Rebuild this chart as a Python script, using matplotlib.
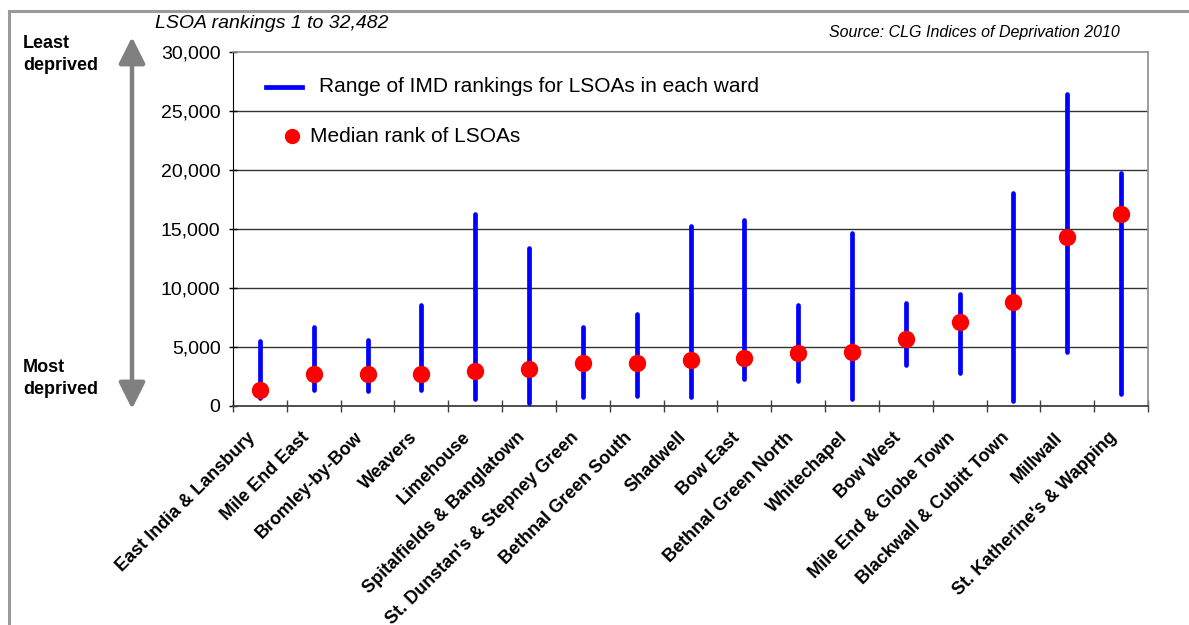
import matplotlib
matplotlib.use("Agg")
import matplotlib.pyplot as plt
from matplotlib.patches import FancyArrowPatch
from matplotlib.lines import Line2D
from matplotlib.transforms import ScaledTranslation, blended_transform_factory

wards = ["East India & Lansbury", "Mile End East", "Bromley-by-Bow", "Weavers",
         "Limehouse", "Spitalfields & Banglatown", "St. Dunstan's & Stepney Green",
         "Bethnal Green South", "Shadwell", "Bow East", "Bethnal Green North",
         "Whitechapel", "Bow West", "Mile End & Globe Town", "Blackwall & Cubitt Town",
         "Millwall", "St. Katherine's & Wapping"]
rank_min = [700, 1350, 1300, 1350, 590, 230, 760, 850, 790, 2260, 2150, 590,
            3500, 2820, 450, 4580, 1040]
rank_max = [5500, 6670, 5560, 8590, 16270, 13360, 6720, 7800, 15280, 15790, 8600,
            14660, 8730, 9460, 18080, 26420, 19770]
rank_median = [1350, 2680, 2680, 2700, 3000, 3100, 3610, 3640, 3900, 4100, 4490,
               4600, 5680, 7150, 8840, 14300, 16250]
y_ticks = [0, 5000, 10000, 15000, 20000, 25000, 30000]

plt.rcParams['font.family'] = ['Liberation Sans', 'DejaVu Sans']

W, H = 1189, 625
fig = plt.figure(figsize=(W / 100, H / 100), dpi=100)
L, R, T, B = 233, 1148, 52, 406
ax = fig.add_axes([L / W, 1 - B / H, (R - L) / W, (B - T) / H])

x = list(range(len(wards)))
lc = ax.vlines(x, rank_min, rank_max, color='#0000FF', lw=3.4, zorder=3)
lc.set_capstyle('round')
ax.plot(x, rank_median, 'o', color='#FF0000', mec='#FF0000', ms=11.5, zorder=4)

ax.set_xlim(-0.5, len(wards) - 0.5)
ax.set_ylim(0, 30000)
ax.set_yticks(y_ticks)
ax.set_yticklabels([f"{v:,}" for v in y_ticks], fontsize=14)
for v in y_ticks[1:-1]:
    ax.axhline(v, color='#333333', lw=1.0, zorder=1)

ax.set_xticks([i - 0.5 for i in range(len(wards) + 1)])
ax.set_xticklabels([])
ax.tick_params(axis='x', direction='inout', length=8.5, width=1, color='#404040')
ax.tick_params(axis='y', direction='inout', length=6, width=1, pad=6, color='black')

for s in ['top', 'right']:
    ax.spines[s].set_color('#8c8c8c')
    ax.spines[s].set_linewidth(1.2)
ax.spines['left'].set_color('black')
ax.spines['bottom'].set_color('#404040')
ax.spines['bottom'].set_linewidth(1.3)

trans = blended_transform_factory(ax.transData, ax.transAxes) + \
    ScaledTranslation(-13 / 100, -23 / 100, fig.dpi_scale_trans)
for i, name in enumerate(wards):
    ax.text(i, 0, name, transform=trans, rotation=45, ha='right', va='top',
            rotation_mode='anchor', fontsize=13, fontweight='bold')

# legend
def ax_pt(px, py):
    return ((px - L) / (R - L), (B - py) / (B - T))

x0, y0 = ax_pt(266, 87)
x1, _ = ax_pt(302, 87)
ax.add_line(Line2D([x0, x1], [y0, y0], transform=ax.transAxes, color='#0000FF', lw=3.4))
tx, ty = ax_pt(319, 87)
ax.text(tx, ty, "Range of IMD rankings for LSOAs in each ward", transform=ax.transAxes,
        fontsize=15, va='center', ha='left')
dx, dy = ax_pt(292, 136)
ax.plot([dx], [dy], 'o', transform=ax.transAxes, color='#FF0000', ms=10)
tx, ty = ax_pt(310, 136)
ax.text(tx, ty, "Median rank of LSOAs", transform=ax.transAxes,
        fontsize=15, va='center', ha='left')

def fpos(px, py):
    return (px / W, 1 - py / H)

fig.text(*fpos(155, 24), "LSOA rankings 1 to 32,482", fontsize=14, style='italic',
         ha='left', va='center')
fig.text(*fpos(1120, 33), "Source: CLG Indices of Deprivation 2010", fontsize=11.5,
         style='italic', ha='right', va='center')
for txt, py in [("Least", 43), ("deprived", 66), ("Most", 368), ("deprived", 390)]:
    fig.text(*fpos(23, py), txt, fontsize=13, fontweight='bold', ha='left', va='center')

arrow = FancyArrowPatch(fpos(132, 37), fpos(132, 409), transform=fig.transFigure,
                        arrowstyle='<|-|>,head_length=16,head_width=8',
                        mutation_scale=1, color='#808080', lw=3.2,
                        shrinkA=0, shrinkB=0)
fig.add_artist(arrow)

# outer frame
fig.add_artist(Line2D([9 / W, 1.0], [1 - 11 / H, 1 - 11 / H], transform=fig.transFigure,
                      color='#9a9a9a', lw=2.2))
fig.add_artist(Line2D([9 / W, 9 / W], [0, 1 - 11 / H], transform=fig.transFigure,
                      color='#9a9a9a', lw=2.2))

fig.savefig("out.png", dpi=100)
